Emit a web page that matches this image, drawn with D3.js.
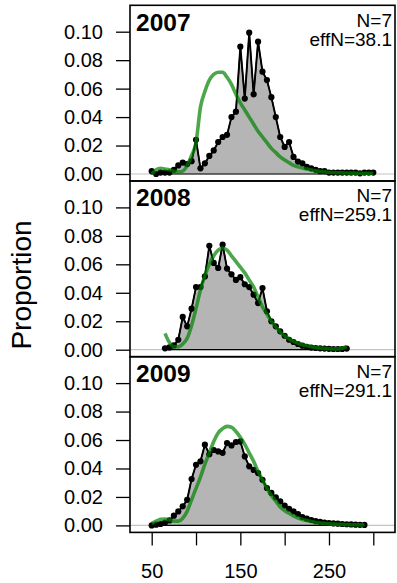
<!DOCTYPE html>
<html>
<head>
<meta charset="utf-8">
<script src="https://cdn.jsdelivr.net/npm/d3@7"></script>
<style>
  body { margin: 0; background: #fff; }
  svg { display: block; font-family: "Liberation Sans", Arial, Helvetica, sans-serif; }
</style>
</head>
<body>
<svg id="viz" width="397" height="583"></svg>
<script>
"use strict";

// length bins (5 cm)
const lengths = [50, 55, 60, 65, 70, 75, 80, 85, 90, 95, 100, 105, 110, 115, 120, 125, 130, 135, 140, 145,
  150, 155, 160, 165, 170, 175, 180, 185, 190, 195, 200, 205, 210, 215, 220, 225, 230, 235, 240, 245,
  250, 255, 260, 265, 270, 275, 280, 285, 290, 295, 300];

const years = ["2007", "2008", "2009"];
const nSamp = ["N=7", "N=7", "N=7"];
const effN = ["effN=38.1", "effN=259.1", "effN=291.1"];

// observed proportions (null = no data in that bin)
const obs2007 = [0.002, 0.000, 0.001, 0.001, 0.001, 0.003, 0.006, 0.008, 0.007, 0.009, 0.024, 0.004, 0.0075, 0.0127, 0.0166, 0.0225, 0.026, 0.0275, 0.040, 0.0438,
  0.0895, 0.053, 0.0993, 0.056, 0.093, 0.0719, 0.066, 0.054, 0.040, 0.026, 0.019, 0.0225, 0.012, 0.0087, 0.0075, 0.005, 0.004, 0.003, 0.002, 0.002,
  0.001, 0.001, 0.001, 0.001, 0.001, 0.001, 0.001, 0.0005, 0.001, 0.001, 0.001];
const obs2008 = [null, null, null, 0.001, 0.0016, 0.003, 0.007, 0.023, 0.0164, 0.0288, 0.044, 0.044, 0.0515, 0.073, 0.061, 0.0574, 0.0738, 0.057, 0.053, 0.049,
  0.051, 0.046, 0.044, 0.0387, 0.0328, 0.0433, 0.027, 0.020, 0.0164, 0.0129, 0.0098, 0.007, 0.0054, 0.004, 0.0028, 0.002, 0.0015, 0.0012, 0.001, 0.0008,
  0.0006, 0.0005, 0.0005, 0.0005, 0.0008, null, null, null, null, null, null];
const obs2009 = [0.000, 0.0005, 0.001, 0.002, 0.0035, 0.0068, 0.0098, 0.0134, 0.018, 0.0326, 0.0426, 0.045, 0.0567, 0.050, 0.053, 0.052, 0.051, 0.0579, 0.0562, 0.0586,
  0.059, 0.0485, 0.0415, 0.039, 0.0368, 0.032, 0.0263, 0.0228, 0.0197, 0.0169, 0.014, 0.0117, 0.0098, 0.008, 0.0059, 0.0047, 0.0038, 0.003, 0.0025, 0.002,
  0.0017, 0.0014, 0.0012, 0.001, 0.0008, 0.0007, 0.0005, 0.0004, 0.0003, null, null];

// expected proportions
const exp2007 = [0.000, 0.003, 0.004, 0.0035, 0.003, 0.002, 0.0015, 0.002, 0.006, 0.013, 0.022, 0.047, 0.058, 0.066, 0.070, 0.0715, 0.0715, 0.068, 0.063, 0.056,
  0.050, 0.045, 0.040, 0.035, 0.030, 0.026, 0.022, 0.018, 0.015, 0.012, 0.0098, 0.008, 0.006, 0.005, 0.0042, 0.0035, 0.0028, 0.0022, 0.0018, 0.0015,
  0.0012, 0.001, 0.0009, 0.0008, 0.0007, 0.0006, 0.0006, 0.0005, 0.0005, 0.0005, 0.0005];
const exp2008 = [null, null, null, 0.0115, 0.005, 0.002, 0.002, 0.004, 0.008, 0.017, 0.029, 0.042, 0.052, 0.060, 0.066, 0.070, 0.0715, 0.070, 0.066, 0.062,
  0.058, 0.054, 0.049, 0.044, 0.037, 0.030, 0.025, 0.020, 0.016, 0.0125, 0.0098, 0.0075, 0.0058, 0.0045, 0.0035, 0.0027, 0.002, 0.0015, 0.0012, 0.0009,
  0.0007, 0.0006, 0.0006, 0.001, 0.0023, null, null, null, null, null, null];
const exp2009 = [0.0015, 0.003, 0.0043, 0.0045, 0.004, 0.003, 0.003, 0.005, 0.010, 0.018, 0.026, 0.034, 0.043, 0.051, 0.059, 0.065, 0.068, 0.0696, 0.069, 0.066,
  0.062, 0.057, 0.051, 0.045, 0.038, 0.032, 0.026, 0.021, 0.017, 0.013, 0.0105, 0.0085, 0.0067, 0.0052, 0.0042, 0.0034, 0.0027, 0.0021, 0.0017, 0.0014,
  0.0011, 0.0009, 0.0008, 0.0007, 0.0006, 0.0005, 0.0005, 0.0004, 0.0004, null, null];

const yTicks = [0, 0.02, 0.04, 0.06, 0.08, 0.10];
const xTicks = [50, 100, 150, 200, 250, 300];
const xLabels = [50, 150, 250];

const observed = [obs2007, obs2008, obs2009];
const expected = [exp2007, exp2008, exp2009];

let svg = d3.select("#viz"), margin = {
    top: 5.3,
    left: 130,
    right: 395
};
let panelH = 175.7;
let fmt = d3.format(".2f");

let xScale = d3.scaleLinear()
    .domain([50, 300])
    .range([151.7, 373.3]);

years.forEach((yr, k) => {
    let top = margin.top + k * panelH;
    let yScale = d3.scaleLinear()
        .domain([0, 0.1])
        .range([top + 168.7, top + 26.4]);
    let g = svg.append("g").attr("class", "panel");

    let obsPts = lengths.map((l, i) => ({ x: l, y: observed[k][i] })).filter(d => d.y !== null);
    let expPts = lengths.map((l, i) => ({ x: l, y: expected[k][i] })).filter(d => d.y !== null);

    // zero line
    g.append("line")
        .attr("x1", margin.left).attr("x2", margin.right)
        .attr("y1", yScale(0)).attr("y2", yScale(0))
        .attr("stroke", "#c4c4c4").attr("stroke-width", 1.2);

    // observed polygon
    let area = d3.area().x(d => xScale(d.x)).y0(yScale(0)).y1(d => yScale(d.y));
    g.append("path")
        .datum(obsPts)
        .attr("d", area)
        .attr("fill", "#b5b5b5")
        .attr("stroke", "#000")
        .attr("stroke-width", 1.2);

    // observed line + points
    let line = d3.line().x(d => xScale(d.x)).y(d => yScale(d.y));
    g.append("path")
        .datum(obsPts)
        .attr("d", line)
        .attr("fill", "none")
        .attr("stroke", "#000")
        .attr("stroke-width", 1.9);
    g.selectAll(".pt")
        .data(obsPts)
        .enter().append("circle")
        .attr("class", "pt")
        .attr("cx", d => xScale(d.x))
        .attr("cy", d => yScale(d.y))
        .attr("r", 3.1)
        .attr("fill", "#000");

    // expected
    g.append("path")
        .datum(expPts)
        .attr("d", d3.line().x(d => xScale(d.x)).y(d => yScale(d.y)).curve(d3.curveMonotoneX))
        .attr("fill", "none")
        .attr("stroke", "#008000")
        .attr("stroke-opacity", 0.7)
        .attr("stroke-width", 3.6)
        .attr("stroke-linejoin", "round");

    // y axis
    let yAxis = d3.axisLeft(yScale)
        .tickValues(yTicks)
        .tickFormat(fmt)
        .tickSize(14)
        .tickPadding(13);
    let ax = g.append("g")
        .attr("class", "y axis")
        .attr("transform", `translate(${margin.left}, 0)`)
        .call(yAxis);
    ax.select(".domain").remove();
    ax.selectAll("line").attr("stroke", "#000").attr("stroke-width", 1.3);
    ax.selectAll("text")
        .attr("font-size", 20)
        .attr("font-family", "Liberation Sans, Arial, sans-serif")
        .attr("fill", "#000");

    // panel box
    g.append("rect")
        .attr("x", margin.left).attr("y", top)
        .attr("width", margin.right - margin.left).attr("height", panelH)
        .attr("fill", "none")
        .attr("stroke", "#000")
        .attr("stroke-width", 1.6);

    g.append("text")
        .attr("x", 136).attr("y", top + 25.4)
        .attr("font-size", 24.5).attr("font-weight", "bold")
        .text(yr);
    g.append("text")
        .attr("x", 392).attr("y", top + 21.4)
        .attr("text-anchor", "end")
        .attr("font-size", 19)
        .text(nSamp[k]);
    g.append("text")
        .attr("x", 392).attr("y", top + 40.4)
        .attr("text-anchor", "end")
        .attr("font-size", 19)
        .text(effN[k]);
});

// x axis
let bottom = margin.top + 3 * panelH;
let xAxis = d3.axisBottom(xScale)
    .tickValues(xTicks)
    .tickFormat(d => xLabels.includes(d) ? d : "")
    .tickSize(13)
    .tickPadding(18);
let xa = svg.append("g")
    .attr("class", "x axis")
    .attr("transform", `translate(0, ${bottom})`)
    .call(xAxis);
xa.select(".domain").remove();
xa.selectAll("line").attr("stroke", "#000").attr("stroke-width", 1.3);
xa.selectAll("text")
    .attr("font-size", 20)
    .attr("font-family", "Liberation Sans, Arial, sans-serif")
    .attr("fill", "#000");

svg.append("text")
    .attr("class", "yAxisLabel label")
    .attr("text-anchor", "middle")
    .attr("transform", "translate(31, 285) rotate(-90)")
    .attr("font-size", 28)
    .text("Proportion");
</script>
</body>
</html>
